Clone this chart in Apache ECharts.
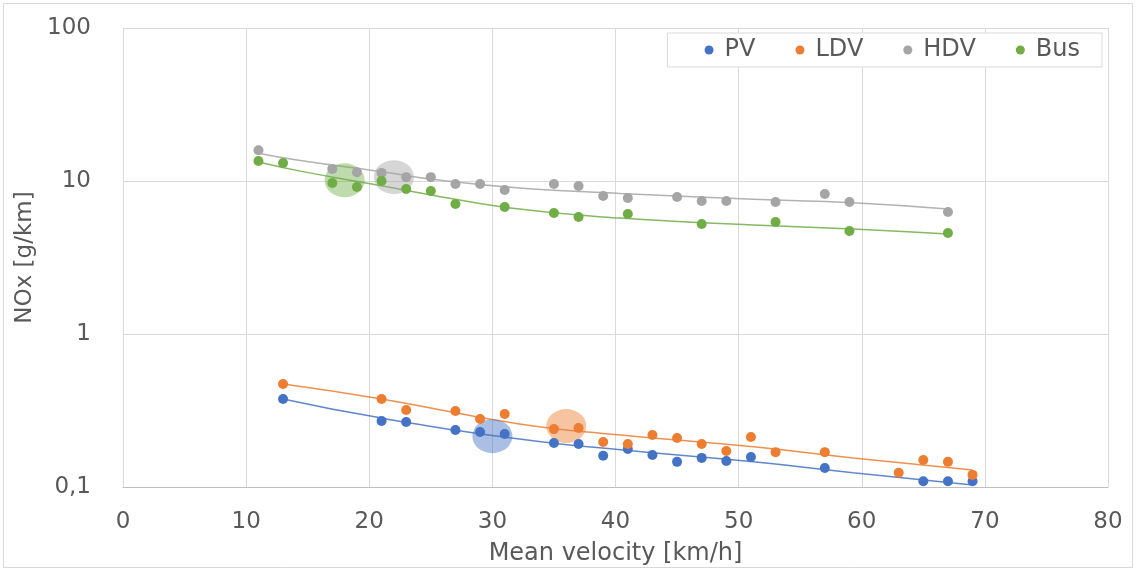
<!DOCTYPE html>
<html>
<head>
<meta charset="utf-8">
<script src="https://cdn.jsdelivr.net/npm/echarts@6/dist/echarts.min.js"></script>
<style>
html,body{margin:0;padding:0;background:#fff;}
#chart{width:1136px;height:571px;}
</style>
</head>
<body>
<div id="chart"></div>
<script>
// Mean velocity [km/h] and NOx [g/km]
const pvX   = [13, 21, 23, 27, 29, 31, 35, 37, 39, 41, 43, 45, 47, 49, 51, 57, 65, 67, 69];
const pvY   = [0.376, 0.270, 0.266, 0.236, 0.229, 0.222, 0.194, 0.191, 0.160, 0.177, 0.162, 0.146, 0.155, 0.148, 0.157, 0.133, 0.109, 0.109, 0.109];
const ldvX  = [13, 21, 23, 27, 29, 31, 35, 37, 39, 41, 43, 45, 47, 49, 51, 53, 57, 63, 65, 67, 69];
const ldvY  = [0.471, 0.376, 0.319, 0.314, 0.278, 0.300, 0.239, 0.243, 0.197, 0.191, 0.219, 0.209, 0.191, 0.172, 0.212, 0.169, 0.169, 0.124, 0.150, 0.146, 0.120];
const hdvX  = [11, 17, 19, 21, 23, 25, 27, 29, 31, 35, 37, 39, 41, 45, 47, 49, 53, 57, 59, 67];
const hdvY  = [15.9, 12.0, 11.4, 11.3, 10.6, 10.6, 9.55, 9.55, 8.73, 9.55, 9.27, 7.98, 7.74, 7.86, 7.40, 7.40, 7.29, 8.22, 7.29, 6.27];
const busX  = [11, 13, 17, 19, 21, 23, 25, 27, 31, 35, 37, 41, 47, 53, 59, 67];
const busY  = [13.5, 13.1, 9.70, 9.14, 10.0, 8.87, 8.60, 7.08, 6.76, 6.18, 5.82, 6.09, 5.24, 5.40, 4.71, 4.57];

// trend lines
const pvTrendX  = [13, 21, 32.2, 40.4, 51.2, 59.3, 69];
const pvTrendY  = [0.376, 0.282, 0.206, 0.175, 0.146, 0.124, 0.103];
const ldvTrendX = [13, 21, 32.2, 40.4, 51.2, 59.3, 69];
const ldvTrendY = [0.471, 0.376, 0.258, 0.219, 0.183, 0.155, 0.129];
const hdvTrendX = [11, 14.4, 21, 25.8, 32.2, 40.4, 51.2, 59.3, 67];
const hdvTrendY = [15.2, 13.6, 11.5, 10.1, 9.0, 8.3, 7.6, 7.2, 6.55];
const busTrendX = [11, 14.4, 21, 25.8, 32.2, 40.4, 51.2, 59.3, 67];
const busTrendY = [13.3, 11.6, 9.3, 7.9, 6.55, 5.72, 5.16, 4.86, 4.5];

// highlighted points (large translucent circles)
const hlX = [18, 22, 30, 36];
const hlY = [10.1, 10.6, 0.215, 0.25];
const hlSeries = ['Bus', 'HDV', 'PV', 'LDV'];

const seriesNames = ['PV', 'LDV', 'HDV', 'Bus'];
const xTicks = [0, 10, 20, 30, 40, 50, 60, 70, 80];
const yTickLabels = {0.1: '0,1', 1: '1', 10: '10', 100: '100'};

const colors = {PV: '#4472c4', LDV: '#ed7d31', HDV: '#a5a5a5', Bus: '#70ad47'};
const FONT = 'DejaVu Sans';
const TXT = '#595959';

const zip = (xs, ys) => xs.map((x, i) => [x, ys[i]]);
const pts = {PV: [pvX, pvY], LDV: [ldvX, ldvY], HDV: [hdvX, hdvY], Bus: [busX, busY]};
const trends = {PV: [pvTrendX, pvTrendY], LDV: [ldvTrendX, ldvTrendY], HDV: [hdvTrendX, hdvTrendY], Bus: [busTrendX, busTrendY]};

const series = [];
seriesNames.forEach(n => {
  series.push({
    name: n + ' trend', type: 'line', data: zip(trends[n][0], trends[n][1]),
    smooth: true, showSymbol: false, symbol: 'none', silent: true,
    lineStyle: {color: colors[n], width: 1.5, opacity: 0.85}, z: 2
  });
});
hlSeries.forEach((n, i) => {
  series.push({
    name: n + ' highlight', type: 'scatter', data: [[hlX[i], hlY[i]]],
    symbolSize: [40, 34], itemStyle: {color: colors[n], opacity: 0.45}, z: 3, silent: true
  });
});
seriesNames.forEach(n => {
  series.push({
    name: n, type: 'scatter', data: zip(pts[n][0], pts[n][1]),
    symbolSize: 10, itemStyle: {color: colors[n], opacity: 1}, z: 4
  });
});

const chart = echarts.init(document.getElementById('chart'), null, {renderer: 'canvas'});
chart.setOption({
  animation: false,
  backgroundColor: '#fff',
  textStyle: {fontFamily: FONT, color: TXT},
  graphic: [{
    type: 'rect', silent: true, z: 0,
    shape: {x: 3.5, y: 3.5, width: 1129, height: 564},
    style: {fill: 'none', stroke: '#d9d9d9', lineWidth: 1}
  }],
  grid: {left: 123, right: 28, top: 28, bottom: 84},
  legend: {
    data: seriesNames,
    right: 34, top: 33,
    padding: [5, 22, 5, 37],
    itemGap: 40,
    itemWidth: 9, itemHeight: 9,
    icon: 'circle',
    borderColor: '#d9d9d9', borderWidth: 1, backgroundColor: '#fff',
    textStyle: {fontFamily: FONT, fontSize: 24, color: TXT, padding: [0, 0, 0, 6]}
  },
  xAxis: {
    type: 'value', min: xTicks[0], max: xTicks[xTicks.length - 1], interval: 10,
    name: 'Mean velocity [km/h]', nameLocation: 'middle', nameGap: 55,
    nameTextStyle: {fontFamily: FONT, fontSize: 24, color: TXT},
    axisLine: {show: true, lineStyle: {color: '#bfbfbf', width: 1}},
    axisTick: {show: false},
    axisLabel: {fontFamily: FONT, fontSize: 23, color: TXT, margin: 24},
    splitLine: {show: true, lineStyle: {color: '#d9d9d9', width: 1}}
  },
  yAxis: {
    type: 'log', logBase: 10, min: 0.1, max: 100,
    name: 'NOx [g/km]', nameLocation: 'middle', nameGap: 76, nameRotate: 90,
    nameTextStyle: {fontFamily: FONT, fontSize: 23, color: TXT},
    axisLine: {show: false},
    axisTick: {show: false},
    axisLabel: {
      fontFamily: FONT, fontSize: 23, color: TXT, margin: 32,
      formatter: v => {
        const k = Math.round(Math.log10(v));
        return yTickLabels[Math.pow(10, k)] || String(v).replace('.', ',');
      }
    },
    splitLine: {show: true, lineStyle: {color: '#d9d9d9', width: 1}}
  },
  series: series
});
</script>
</body>
</html>
